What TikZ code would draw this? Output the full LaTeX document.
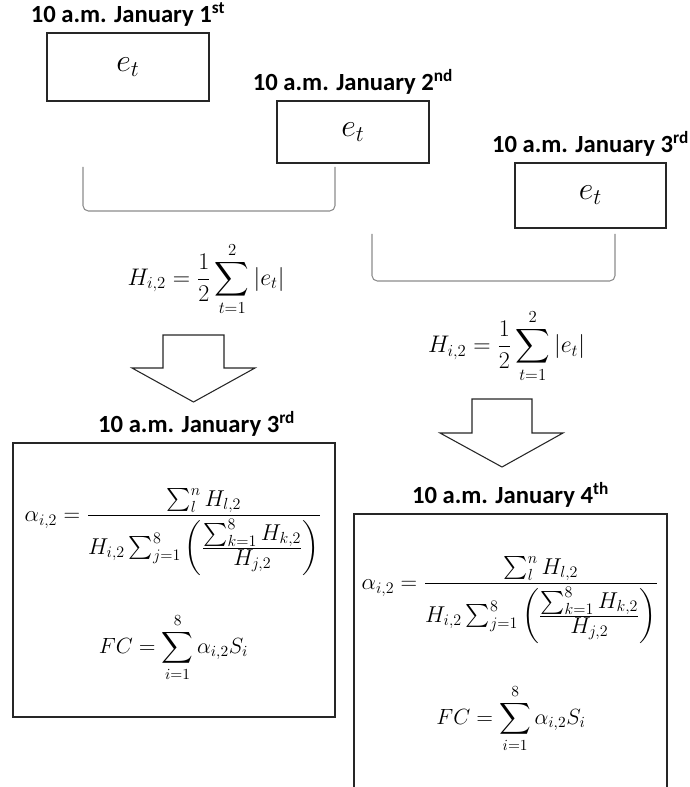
\documentclass[tikz,border=0pt]{standalone}
\usepackage{fix-cm}
\usepackage{amsmath,amssymb}
\usepackage[no-math]{fontspec}
\setmainfont{Carlito}
\usepackage{tikz}
\usetikzlibrary{positioning, calc}

\begin{document}
\begin{tikzpicture}[
		x=0.75pt, y=-0.75pt,
		etbox/.style={rectangle, draw=black!85, line width=1pt, minimum width=114pt, minimum height=46.5pt, font=\fontsize{24}{28}\selectfont},
		resbox/.style={rectangle, draw=black!85, line width=1pt, minimum height=205.5pt},
		datelabel/.style={font=\fontsize{18.5}{22}\selectfont\bfseries, inner sep=0pt},
		hsum/.style={font=\fontsize{18}{22}\selectfont, inner sep=0pt},
		alphaeq/.style={font=\fontsize{17.2}{21}\selectfont, inner sep=0pt},
		fceq/.style={font=\fontsize{16.5}{20}\selectfont, inner sep=0pt},
		bracket/.style={draw=black!45, line width=0.8pt, rounded corners=4pt},
		blockarrow/.style={draw=black!85, line width=0.8pt, fill=white}
		]

		\useasboundingbox (0,0) rectangle (689,787);

		\node[etbox, minimum width=121.5pt, minimum height=51pt] (day1) at (128,67) {$e_t$};
		\node[etbox] (day2) at (353,132) {$e_t$};
		\node[etbox, minimum width=113.25pt, minimum height=48.75pt] (day3) at (590.5,195.5) {$e_t$};

		\node[datelabel, above=4.5pt of day1] (lab1) {10 a.m. January 1\textsuperscript{st}};
		\node[datelabel, above=4.5pt of day2] (lab2) {10 a.m. January 2\textsuperscript{nd}};
		\node[datelabel, above=4.5pt of day3] (lab3) {10 a.m. January 3\textsuperscript{rd}};

		\draw[bracket] (83,167) -- (83,211) -- (335,211) -- (335,167);
		\draw[bracket] (372,234) -- (372,281) -- (615,281) -- (615,234);

		\node[hsum] (hsum1) at (206,279) {$\displaystyle H_{i,2}=\frac{1}{2}\sum_{t=1}^{2}\,\lvert e_t\rvert$};
		\node[hsum] (hsum2) at (506.5,346) {$\displaystyle H_{i,2}=\frac{1}{2}\sum_{t=1}^{2}\,\lvert e_t\rvert$};

		\draw[blockarrow] (163,335) -- (224,335) -- (224,368) -- (255,368) -- (193.5,402) -- (132,368) -- (163,368) -- cycle;
		\draw[blockarrow] (472,399) -- (532,399) -- (532,433) -- (563,433) -- (502,467) -- (440,433) -- (472,433) -- cycle;

		\node[resbox, minimum width=241.5pt] (res1) at (174,580) {};
		\node[resbox, minimum width=234.75pt] (res2) at (510.5,651) {};
		\node[datelabel, above=4.5pt of res1, xshift=17pt] (lab4) {10 a.m. January 3\textsuperscript{rd}};
		\node[datelabel, above=4.5pt of res2] (lab5) {10 a.m. January 4\textsuperscript{th}};

		\node[alphaeq] (alpha1) at (173,532) {$\displaystyle \alpha_{i,2}=\frac{\sum_{l}^{n} H_{l,2}}{H_{i,2}\sum_{j=1}^{8}\left(\frac{\textstyle\sum_{k=1}^{8} H_{k,2}}{\textstyle H_{j,2}}\right)}$};
		\node[fceq] (fc1) at (173.5,647.5) {$\displaystyle FC=\sum_{i=1}^{8}\alpha_{i,2}S_i$};
		\node[alphaeq] (alpha2) at (510,600) {$\displaystyle \alpha_{i,2}=\frac{\sum_{l}^{n} H_{l,2}}{H_{i,2}\sum_{j=1}^{8}\left(\frac{\textstyle\sum_{k=1}^{8} H_{k,2}}{\textstyle H_{j,2}}\right)}$};
		\node[fceq] (fc2) at (511,718.5) {$\displaystyle FC=\sum_{i=1}^{8}\alpha_{i,2}S_i$};
	\end{tikzpicture}
\end{document}
